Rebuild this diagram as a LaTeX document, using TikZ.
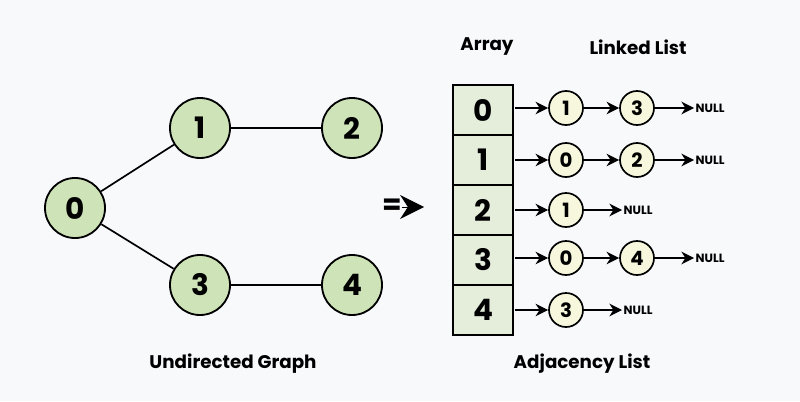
\documentclass[tikz,border=0pt]{standalone}
\usepackage{fontspec}
\setmainfont{Poppins}
\usetikzlibrary{arrows.meta, positioning}
\definecolor{bgcol}{HTML}{F8F9FB}
\definecolor{gnode}{HTML}{CFE3B8}
\definecolor{cellcol}{HTML}{E4EEDB}
\definecolor{lnode}{HTML}{F6F7DC}
\tikzset{%
	graph node/.style={
		circle, draw, line width=1.3pt, fill=gnode,
		minimum size=1.5cm, font=\bfseries\fontsize{21}{21}\selectfont
	},
	list node/.style={
		circle, draw, line width=1.2pt, fill=lnode,
		minimum size=0.85cm, inner sep=0pt, font=\bfseries\fontsize{14}{14}\selectfont
	},
	cell/.style={
		rectangle, draw, line width=1.2pt, fill=cellcol,
		minimum width=1.5cm, minimum height=1.25cm, font=\bfseries\fontsize{21}{21}\selectfont
	},
	title/.style={font=\bfseries\fontsize{13}{13}\selectfont},
	null/.style={font=\bfseries\fontsize{8.5}{8.5}\selectfont, inner sep=1pt},
	link/.style={-{Stealth[length=9pt,width=9pt]}, line width=1.1pt},
}
\begin{document}
\begin{tikzpicture}[x=0.025cm, y=-0.025cm]
	% Background
	\fill[bgcol] (0,0) rectangle (800,401);
	
	% Undirected graph
	\node[graph node] (g0) at (75,208) {0};
	\node[graph node] (g1) at (200,128) {1};
	\node[graph node] (g2) at (352,128) {2};
	\node[graph node] (g3) at (200,285) {3};
	\node[graph node] (g4) at (352,285) {4};
	\draw[line width=1.2pt] (g0) -- (g1) (g1) -- (g2) (g0) -- (g3) (g3) -- (g4);
	\node[title] (gtitle) at (233,364) {Undirected Graph};
	
	% Implication arrow
	\node[font=\bfseries\fontsize{20}{20}\selectfont, inner sep=0pt] (eq) at (392,207) {=};
	\coordinate (eqend) at (424,207);
	\draw[-{Stealth[length=17pt,width=17pt]}, line width=0pt] (eq.east) -- (eqend);
	
	% Array cells
	\foreach \i in {0,...,4}
		\node[cell] (c\i) at (483,110+50*\i) {\i};
	\node[title] (atitle) at (487,47) {Array};
	\node[title] (ltitle) at (638,47) {Linked List};
	\node[title] (adtitle) at (582,364) {Adjacency List};
	
	% Two-element lists
	\foreach \i/\a/\b/\y in {0/1/3/108, 1/0/2/160, 3/0/4/258} {
		\node[list node] (a\i) at (566,\y) {\a};
		\node[list node] (b\i) at (637,\y) {\b};
		\node[null, anchor=west] (n\i) at (694,\y) {NULL};
		\coordinate (s\i) at (515,\y);
		\draw[link] (s\i) -- (a\i);
		\draw[link] (a\i) -- (b\i);
		\draw[link] (b\i) -- (n\i);
	}
	% One-element lists
	\foreach \i/\a/\y in {2/1/210, 4/3/310} {
		\node[list node] (a\i) at (566,\y) {\a};
		\node[null, anchor=west] (n\i) at (622,\y) {NULL};
		\coordinate (s\i) at (515,\y);
		\draw[link] (s\i) -- (a\i);
		\draw[link] (a\i) -- (n\i);
	}
\end{tikzpicture}
\end{document}
